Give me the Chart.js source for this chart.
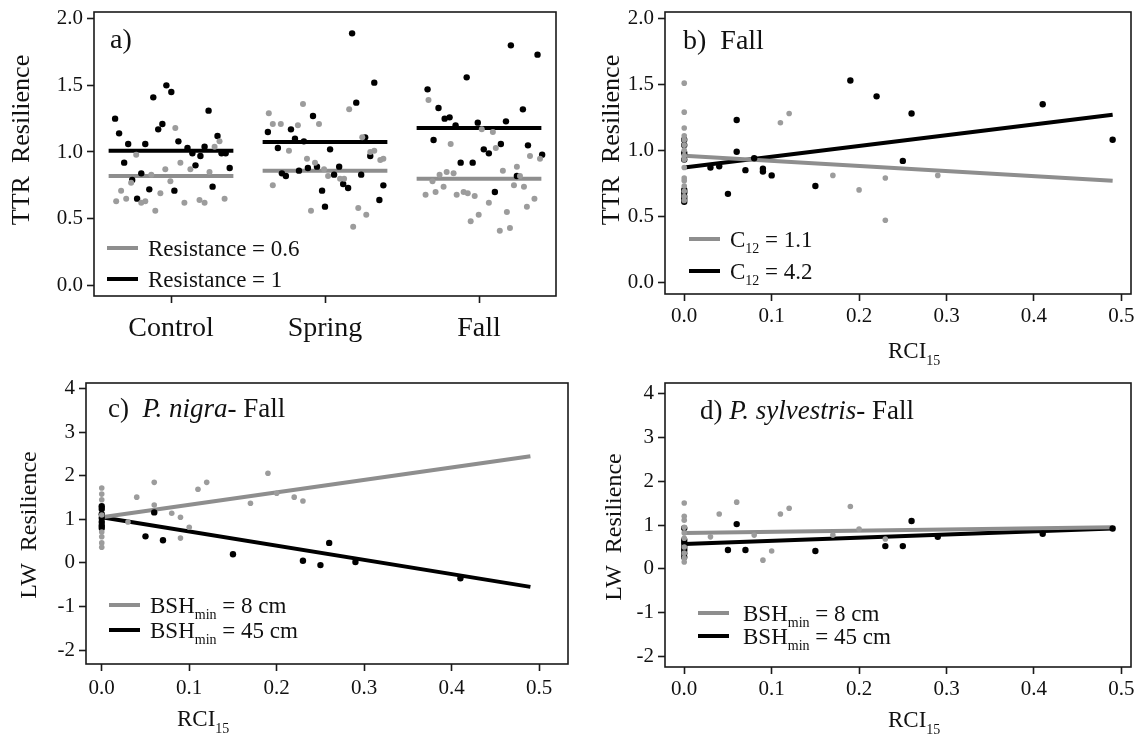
<!DOCTYPE html>
<html>
<head>
<meta charset="utf-8">
<script src="https://cdn.jsdelivr.net/npm/chart.js@4.4.1/dist/chart.umd.min.js"></script>
<style>
body { margin: 0; background: #fff; width: 1142px; height: 751px; position: relative; overflow: hidden; }
canvas { position: absolute; }
</style>
</head>
<body>
<canvas id="chartA" width="572" height="368" style="left:0;top:0"></canvas>
<canvas id="chartB" width="570" height="368" style="left:572px;top:0"></canvas>
<canvas id="chartC" width="580" height="383" style="left:0;top:368px"></canvas>
<canvas id="chartD" width="562" height="383" style="left:580px;top:368px"></canvas>
<script>
// ---- data ----
var categories = ["Control", "Spring", "Fall"];
var ttrTicks = [0, 0.5, 1, 1.5, 2];
var rciTicks = [0, 0.1, 0.2, 0.3, 0.4, 0.5];
var lwTicks = [-2, -1, 0, 1, 2, 3, 4];

// a) jittered points, x = group position (1 Control, 2 Spring, 3 Fall)
var aBlack = [
	[0.637,1.25],[0.663,1.14],[0.722,1.06],[0.696,0.92],[0.748,0.79],[0.807,0.84],[0.833,1.06],[0.780,0.65],
	[0.859,0.72],[0.885,1.41],[0.917,1.17],[0.944,1.21],[0.970,1.50],[1.002,1.45],[1.022,0.71],[1.048,1.08],
	[1.107,1.03],[1.139,0.99],[1.159,0.90],[1.191,0.97],[1.218,1.04],[1.244,1.31],[1.270,0.74],[1.302,1.12],
	[1.328,0.99],[1.355,0.99],[1.381,0.88],
	[1.629,1.15],[1.694,1.03],[1.779,1.17],[1.805,1.10],[1.720,0.84],[1.746,0.82],[1.831,0.86],[1.863,1.08],
	[1.889,0.88],[1.922,1.27],[1.948,0.89],[1.981,0.71],[2.000,0.59],[2.033,1.02],[2.059,0.83],[2.092,0.89],
	[2.118,0.76],[2.150,0.73],[2.176,1.89],[2.203,1.37],[2.235,0.83],[2.261,1.11],[2.294,0.97],[2.320,1.52],
	[2.353,0.64],[2.379,0.75],
	[2.666,1.47],[2.705,1.09],[2.737,1.33],[2.777,1.25],[2.809,1.26],[2.848,1.20],[2.881,0.92],[2.920,1.56],
	[2.959,0.92],[2.992,1.22],[3.031,1.02],[3.064,0.99],[3.103,0.70],[3.142,1.06],[3.175,1.23],[3.207,1.80],
	[3.246,0.82],[3.285,1.32],[3.318,1.05],[3.380,1.73],[3.410,0.98]
];
var aGray = [
	[0.644,0.63],[0.676,0.71],[0.709,0.65],[0.741,0.77],[0.774,0.98],[0.807,0.62],[0.833,0.63],[0.872,0.83],
	[0.898,0.56],[0.931,0.69],[0.963,0.87],[0.996,0.78],[1.028,1.18],[1.061,0.92],[1.087,0.62],[1.126,0.87],
	[1.185,0.64],[1.218,0.62],[1.250,0.85],[1.283,1.04],[1.315,1.08],[1.348,0.65],
	[1.635,1.29],[1.661,1.21],[1.713,1.21],[1.766,1.01],[1.661,0.75],[1.824,1.20],[1.857,1.36],[1.883,0.95],
	[1.909,0.56],[1.935,0.92],[1.961,1.21],[1.994,0.87],[2.020,0.82],[2.098,0.80],[2.124,0.80],[2.157,1.32],
	[2.183,0.44],[2.216,0.58],[2.242,1.11],[2.268,0.53],[2.294,1.00],[2.320,1.01],[2.359,0.94],[2.379,0.95],
	[2.672,1.39],[2.653,0.68],[2.698,0.78],[2.718,0.70],[2.744,0.83],[2.770,0.74],[2.790,0.85],[2.816,1.06],
	[2.835,0.84],[2.855,0.68],[2.900,0.70],[2.927,0.69],[2.946,0.48],[2.972,0.67],[2.998,0.53],[3.018,1.17],
	[3.064,0.62],[3.090,1.15],[3.109,1.03],[3.135,0.41],[3.155,0.86],[3.181,0.55],[3.201,0.43],[3.227,0.75],
	[3.246,0.89],[3.266,0.82],[3.292,0.74],[3.311,0.59],[3.331,0.97],[3.360,0.65],[3.396,0.95]
];
var aMeanGray = [0.82, 0.86, 0.80];
var aMeanBlack = [1.01, 1.075, 1.18];

// b) Fall, C12
var bGray = [
	[0,1.51],[0,1.29],[0,1.17],[0,1.11],[0,1.08],[0,1.04],[0,1.00],[0,0.96],[0,0.93],[0,0.87],[0,0.79],
	[0,0.77],[0,0.73],[0,0.69],[0,0.65],[0,0.62],[0.11,1.21],[0.12,1.28],[0.17,0.81],[0.2,0.70],
	[0.23,0.79],[0.23,0.47],[0.29,0.81]
];
var bBlack = [
	[0,1.08],[0,1.04],[0,0.98],[0,0.93],[0,0.70],[0,0.68],[0,0.65],[0,0.63],[0,0.61],[0.03,0.87],[0.04,0.88],
	[0.05,0.67],[0.06,1.23],[0.06,0.99],[0.07,0.85],[0.08,0.94],[0.09,0.86],[0.09,0.84],[0.1,0.81],
	[0.15,0.73],[0.19,1.53],[0.22,1.41],[0.25,0.92],[0.26,1.28],[0.41,1.35],[0.49,1.08]
];
var fitX = [0, 0.49];
var bFitGray = [0.96, 0.77];
var bFitBlack = [0.87, 1.27];

// c) P. nigra - Fall
var cGray = [
	[0,1.72],[0,1.58],[0,1.45],[0,1.10],[0,0.71],[0,0.60],[0,0.46],[0,0.36],[0.03,0.94],[0.04,1.51],
	[0.06,1.85],[0.06,1.33],[0.08,1.14],[0.09,1.05],[0.1,0.82],[0.09,0.57],[0.11,1.69],[0.12,1.85],
	[0.17,1.37],[0.19,2.06],[0.20,1.60],[0.22,1.51],[0.23,1.42]
];
var cBlack = [
	[0,1.30],[0,1.24],[0,1.12],[0,1.03],[0,0.94],[0,0.86],[0,0.80],[0.05,0.61],[0.06,1.16],[0.07,0.52],
	[0.15,0.20],[0.23,0.05],[0.25,-0.05],[0.26,0.46],[0.29,0.02],[0.41,-0.35]
];
var cFitGray = [1.05, 2.45];
var cFitBlack = [1.05, -0.55];

// d) P. sylvestris - Fall
var dGray = [
	[0,1.50],[0,1.20],[0,1.11],[0,0.95],[0,0.82],[0,0.70],[0,0.50],[0,0.36],[0,0.25],[0,0.16],[0.03,0.73],
	[0.04,1.25],[0.06,1.52],[0.08,0.77],[0.09,0.20],[0.1,0.41],[0.11,1.25],[0.12,1.38],[0.17,0.77],
	[0.19,1.42],[0.2,0.91],[0.23,0.68]
];
var dBlack = [
	[0,0.93],[0,0.66],[0,0.59],[0,0.50],[0,0.43],[0,0.36],[0,0.27],[0.05,0.43],[0.06,1.02],[0.07,0.43],
	[0.15,0.41],[0.23,0.52],[0.25,0.52],[0.26,1.09],[0.29,0.73],[0.41,0.80],[0.49,0.92]
];
var dFitGray = [0.82, 0.95];
var dFitBlack = [0.57, 0.92];

var GRAY = "#9c9c9c", GRAYLINE = "#8e8e8e", BLACK = "#000";
var SERIF = '"Liberation Serif", "Times New Roman", serif';

Chart.defaults.font.family = SERIF;
Chart.defaults.color = "#111";
Chart.defaults.animation = false;

// draws text with optional subscripts / italics
function drawRich(ctx, x, y, parts, size) {
	parts.forEach(function (p) {
		var s = p.sub ? Math.round(size * 0.62) : size;
		ctx.font = (p.italic ? "italic " : "") + s + "px " + SERIF;
		ctx.fillText(p.t, x, y + (p.sub ? size * 0.3 : 0));
		x += ctx.measureText(p.t).width;
	});
}

var panelText = {
	id: "panelText",
	afterDraw: function (chart, args, o) {
		var ctx = chart.ctx, ca = chart.chartArea;
		ctx.save();
		ctx.strokeStyle = "#1a1a1a";
		ctx.lineWidth = 1.6;
		ctx.strokeRect(ca.left, ca.top, ca.right - ca.left, ca.bottom - ca.top);
		ctx.fillStyle = "#111";
		ctx.textBaseline = "alphabetic";
		drawRich(ctx, ca.left + o.label.dx, ca.top + o.label.dy, o.label.parts, o.label.size);
		o.legend.rows.forEach(function (row, i) {
			var y = ca.top + o.legend.dy + i * o.legend.gap;
			ctx.strokeStyle = row.color;
			ctx.lineWidth = 4;
			ctx.beginPath();
			ctx.moveTo(ca.left + o.legend.dx, y);
			ctx.lineTo(ca.left + o.legend.dx + 31, y);
			ctx.stroke();
			drawRich(ctx, ca.left + o.legend.tx, y + o.size * 0.33, row.parts, o.size);
		});
		if (o.xTitle) drawRich(ctx, o.xTitle.x, ca.bottom + o.xTitle.dy, o.xTitle.parts, o.size);
		// rotated y title
		ctx.save();
		ctx.translate(o.yTitle.x, o.yTitle.y);
		ctx.rotate(-Math.PI / 2);
		ctx.textAlign = "center";
		ctx.textBaseline = "middle";
		ctx.font = o.yTitle.size + "px " + SERIF;
		ctx.fillText(o.yTitle.text, 0, 0);
		ctx.restore();
		ctx.restore();
	}
};

function pts(arr) {
	return arr.map(function (p) { return { x: p[0], y: p[1] }; });
}
function fitLine(ys) {
	return fitX.map(function (x, i) { return { x: x, y: ys[i] }; });
}
function pointSet(data, color, r) {
	return { data: pts(data), backgroundColor: color, borderWidth: 0, pointRadius: r, order: 0 };
}
function lineSet(data, color) {
	return { data: data, showLine: true, borderColor: color, borderWidth: 4, pointRadius: 0, order: 1, spanGaps: false };
}
function noPad(s) {
	s.paddingTop = 0; s.paddingBottom = 0; s.paddingLeft = 0; s.paddingRight = 0;
}

function makeChart(id, cfg) {
	return new Chart(document.getElementById(id), {
		type: "scatter",
		data: { datasets: cfg.datasets },
		options: {
			responsive: false,
			layout: { padding: cfg.padding },
			plugins: { legend: { display: false }, tooltip: { enabled: false }, panelText: cfg.text },
			scales: {
				x: {
					type: "linear", min: cfg.xMin, max: cfg.xMax,
					afterFit: function (s) { s.height = cfg.xH; noPad(s); },
					afterBuildTicks: function (s) { s.ticks = cfg.xTicks.map(function (v) { return { value: v }; }); },
					grid: { drawOnChartArea: false, tickLength: 7, tickColor: "#1a1a1a", tickWidth: 1.6 },
					border: { display: false },
					ticks: { padding: cfg.xPad, maxRotation: 0, autoSkip: false, font: { size: cfg.xFont }, callback: cfg.xFmt }
				},
				y: {
					type: "linear", min: cfg.yMin, max: cfg.yMax,
					afterFit: function (s) { s.width = cfg.yW; noPad(s); },
					afterBuildTicks: function (s) { s.ticks = cfg.yTicks.map(function (v) { return { value: v }; }); },
					grid: { drawOnChartArea: false, tickLength: 7, tickColor: "#1a1a1a", tickWidth: 1.6 },
					border: { display: false },
					ticks: { padding: 4, autoSkip: false, font: { size: 21 }, callback: cfg.yFmt }
				}
			}
		},
		plugins: [panelText]
	});
}

function fix1(v) { return Number(v).toFixed(1); }
function rciX() { return [{ t: "RCI" }, { t: "15", sub: true }]; }

// mean lines for panel a, one segment per group
function meanLine(means) {
	var out = [];
	means.forEach(function (m, i) {
		out.push({ x: i + 1 - 0.405, y: m }, { x: i + 1 + 0.405, y: m }, { x: i + 1.5, y: null });
	});
	return out;
}

makeChart("chartA", {
	padding: { left: 0, top: 12, right: 16, bottom: 0 },
	xMin: 0.5, xMax: 3.5, yMin: -0.08, yMax: 2.05, xH: 72, yW: 94, xPad: 9, xFont: 28,
	xTicks: [1, 2, 3], yTicks: ttrTicks,
	xFmt: function (v) { return categories[Math.round(v) - 1]; }, yFmt: fix1,
	datasets: [
		lineSet(meanLine(aMeanGray), GRAYLINE), lineSet(meanLine(aMeanBlack), BLACK),
		pointSet(aGray, GRAY, 3), pointSet(aBlack, BLACK, 3.2)
	],
	text: {
		size: 23,
		yTitle: { text: "TTR  Resilience", x: 22, y: 140, size: 26 },
		label: { dx: 16, dy: 36, size: 28, parts: [{ t: "a)" }] },
		legend: { dx: 13, tx: 54, dy: 236, gap: 31, rows: [
			{ color: GRAYLINE, parts: [{ t: "Resistance = 0.6" }] },
			{ color: BLACK, parts: [{ t: "Resistance = 1" }] }
		] }
	}
});

makeChart("chartB", {
	padding: { left: 0, top: 12, right: 11, bottom: 0 },
	xMin: -0.022, xMax: 0.511, yMin: -0.09, yMax: 2.05, xH: 74, yW: 93, xPad: 3, xFont: 21,
	xTicks: rciTicks, yTicks: ttrTicks, xFmt: fix1, yFmt: fix1,
	datasets: [
		lineSet(fitLine(bFitGray), GRAYLINE), lineSet(fitLine(bFitBlack), BLACK),
		pointSet(bGray, GRAY, 2.8), pointSet(bBlack, BLACK, 3.2)
	],
	text: {
		size: 23,
		yTitle: { text: "TTR  Resilience", x: 40, y: 140, size: 26 },
		label: { dx: 18, dy: 37, size: 28, parts: [{ t: "b)  Fall" }] },
		legend: { dx: 24, tx: 65, dy: 227, gap: 32, rows: [
			{ color: GRAYLINE, parts: [{ t: "C" }, { t: "12", sub: true }, { t: " = 1.1" }] },
			{ color: BLACK, parts: [{ t: "C" }, { t: "12", sub: true }, { t: " = 4.2" }] }
		] },
		xTitle: { x: 316, dy: 64, parts: rciX() }
	}
});

makeChart("chartC", {
	padding: { left: 0, top: 15, right: 12, bottom: 0 },
	xMin: -0.018, xMax: 0.533, yMin: -2.32, yMax: 4.13, xH: 87, yW: 86, xPad: 5, xFont: 21,
	xTicks: rciTicks, yTicks: lwTicks, xFmt: fix1, yFmt: function (v) { return String(v); },
	datasets: [
		lineSet(fitLine(cFitGray), GRAYLINE), lineSet(fitLine(cFitBlack), BLACK),
		pointSet(cGray, GRAY, 2.8), pointSet(cBlack, BLACK, 3.2)
	],
	text: {
		size: 23,
		yTitle: { text: "LW  Resilience", x: 30, y: 157, size: 24 },
		label: { dx: 22, dy: 34, size: 27, parts: [{ t: "c)  " }, { t: "P. nigra", italic: true }, { t: "- Fall" }] },
		legend: { dx: 23, tx: 64, dy: 222, gap: 25, rows: [
			{ color: GRAYLINE, parts: [{ t: "BSH" }, { t: "min", sub: true }, { t: " = 8 cm" }] },
			{ color: BLACK, parts: [{ t: "BSH" }, { t: "min", sub: true }, { t: " = 45 cm" }] }
		] },
		xTitle: { x: 177, dy: 62, parts: rciX() }
	}
});

makeChart("chartD", {
	padding: { left: 0, top: 15, right: 11, bottom: 0 },
	xMin: -0.022, xMax: 0.511, yMin: -2.23, yMax: 4.23, xH: 84, yW: 85, xPad: 3, xFont: 21,
	xTicks: rciTicks, yTicks: lwTicks, xFmt: fix1, yFmt: function (v) { return String(v); },
	datasets: [
		lineSet(fitLine(dFitGray), GRAYLINE), lineSet(fitLine(dFitBlack), BLACK),
		pointSet(dGray, GRAY, 2.8), pointSet(dBlack, BLACK, 3.2)
	],
	text: {
		size: 23,
		yTitle: { text: "LW  Resilience", x: 35, y: 159, size: 24 },
		label: { dx: 35, dy: 36, size: 27, parts: [{ t: "d) " }, { t: "P. sylvestris", italic: true }, { t: "- Fall" }] },
		legend: { dx: 33, tx: 78, dy: 230, gap: 23, rows: [
			{ color: GRAYLINE, parts: [{ t: "BSH" }, { t: "min", sub: true }, { t: " = 8 cm" }] },
			{ color: BLACK, parts: [{ t: "BSH" }, { t: "min", sub: true }, { t: " = 45 cm" }] }
		] },
		xTitle: { x: 308, dy: 60, parts: rciX() }
	}
});
</script>
</body>
</html>
